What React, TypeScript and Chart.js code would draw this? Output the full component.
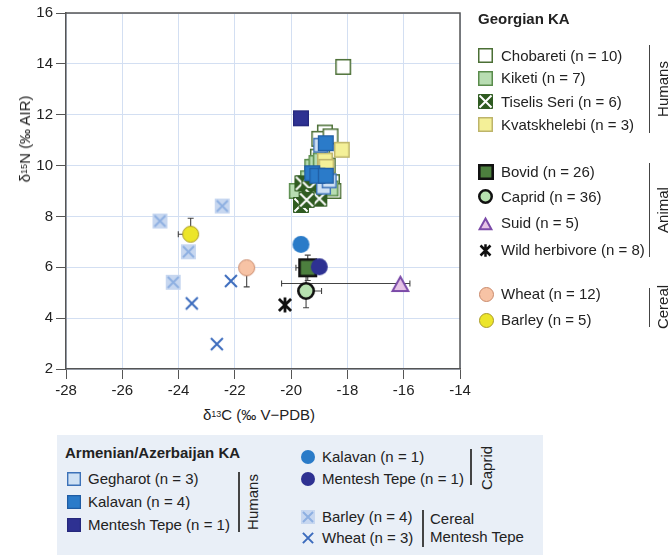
import React, { useEffect, useRef } from "react";
import { Chart, registerables } from "chart.js";

Chart.register(...registerables);

// ---------------- DATA ----------------
// axis ticks
const xTickMin = -28;
const xTickMax = -14;
const yTickMin = 2;
const yTickMax = 16;
const tickStep = 2;

// Georgian KA – humans
const chobaretiX = [-18.15, -18.8, -19.0, -18.6, -18.9, -19.05, -18.7, -18.55, -18.5, -19.15];
const chobaretiY = [13.88, 11.3, 11.05, 11.15, 10.45, 10.35, 10.0, 9.35, 9.0, 9.95];
const kiketiX = [-19.25, -19.1, -18.95, -19.8, -19.55, -18.6, -19.4];
const kiketiY = [9.95, 10.1, 10.2, 9.0, 9.3, 9.1, 9.5];
const tiselisX = [-19.6, -19.35, -19.25, -19.0, -19.65, -19.45];
const tiselisY = [9.3, 9.1, 8.8, 8.7, 8.45, 8.65];
const kvatsX = [-18.2, -18.8, -18.75];
const kvatsY = [10.62, 10.2, 9.95];

// Georgian KA – animals
const bovidX = [-19.41];
const bovidY = [5.98];
const capridX = [-19.47];
const capridY = [5.07];
const suidX = [-16.12];
const suidY = [5.36];
const wildX = [-20.22];
const wildY = [4.52];

// Georgian KA – cereals
const wheatGeoX = [-21.58];
const wheatGeoY = [5.98];
const barleyGeoX = [-23.57];
const barleyGeoY = [7.3];

// Armenian/Azerbaijan KA – humans
const gegharotX = [-18.95, -18.85, -18.65];
const gegharotY = [10.8, 9.15, 9.4];
const kalavanX = [-18.77, -19.25, -19.07, -18.77];
const kalavanY = [10.88, 9.7, 9.6, 9.6];
const mtHumanX = [-19.65];
const mtHumanY = [11.86];

// Armenian/Azerbaijan KA – caprids
const caprKalX = [-19.65];
const caprKalY = [6.9];
const caprMtX = [-19.0];
const caprMtY = [6.02];

// Mentesh Tepe cereals
const barleyMtX = [-24.66, -22.45, -23.65, -24.19];
const barleyMtY = [7.82, 8.41, 6.61, 5.41];
const wheatMtX = [-22.14, -23.53, -22.64];
const wheatMtY = [5.46, 4.58, 2.98];

// error bars (minus / plus, in ‰)
const bovidErrX = [0.42, 0.42];
const bovidErrY = [0.5, 0.5];
const capridErrX = [0, 0.55];
const capridErrY = [0.66, 0.66];
const suidErrX = [4.22, 0.34];
const suidErrY = [0, 0];
const wheatGeoErrX = [0, 0];
const wheatGeoErrY = [0.75, 0];
const barleyGeoErrX = [0.44, 0];
const barleyGeoErrY = [0, 0.63];

// legend labels
const georgianHumanLabels = ["Chobareti (n = 10)", "Kiketi (n = 7)", "Tiselis Seri (n = 6)", "Kvatskhelebi (n = 3)"];
const georgianAnimalLabels = ["Bovid (n = 26)", "Caprid (n = 36)", "Suid (n = 5)", "Wild herbivore (n = 8)"];
const georgianCerealLabels = ["Wheat (n = 12)", "Barley (n = 5)"];
const armHumanLabels = ["Gegharot (n = 3)", "Kalavan (n = 4)", "Mentesh Tepe (n = 1)"];
const armCapridLabels = ["Kalavan (n = 1)", "Mentesh Tepe (n = 1)"];
const mtCerealLabels = ["Barley (n = 4)", "Wheat (n = 3)"];

// ---------------- MARKERS ----------------
type Shape = "square" | "squareX" | "circle" | "triangle" | "asterisk" | "cross";
type Marker = {
  shape: Shape;
  size: number;
  fill?: string;
  stroke?: string;
  lw?: number;
  xColor?: string;
  xWidth?: number;
  inset?: number;
};

const MK: Record<string, Marker> = {
  chob: { shape: "square", size: 16, fill: "#ffffff", stroke: "#4b6f35", lw: 1.5 },
  kik: { shape: "square", size: 16, fill: "#b8ddb2", stroke: "#5a8c4c", lw: 1.5 },
  tis: { shape: "squareX", size: 16, fill: "#2f5b21", stroke: "#2f5b21", lw: 1, xColor: "#ffffff", xWidth: 2, inset: 1.5 },
  kva: { shape: "square", size: 16, fill: "#f4f098", stroke: "#bdb46a", lw: 1.5 },
  bov: { shape: "square", size: 19, fill: "#4c7f3e", stroke: "#111111", lw: 2.6 },
  cap: { shape: "circle", size: 18, fill: "#b7e1b0", stroke: "#111111", lw: 2.6 },
  sui: { shape: "triangle", size: 19, fill: "#e6c3e6", stroke: "#7b4aa8", lw: 2 },
  wild: { shape: "asterisk", size: 18, stroke: "#111111", lw: 2.8 },
  whG: { shape: "circle", size: 17, fill: "#f7c3a5", stroke: "#c98a6c", lw: 1 },
  baG: { shape: "circle", size: 17, fill: "#ece52a", stroke: "#a99a2a", lw: 1 },
  geg: { shape: "square", size: 15, fill: "#cfe1f4", stroke: "#3d72b8", lw: 1.4 },
  kal: { shape: "square", size: 16, fill: "#2b7bc9", stroke: "#1f5ca3", lw: 1.2 },
  mtH: { shape: "square", size: 16, fill: "#2e3192", stroke: "#25287c", lw: 1.2 },
  cKal: { shape: "circle", size: 17, fill: "#2a7bc8" },
  cMt: { shape: "circle", size: 17, fill: "#2e3192" },
  baMt: { shape: "squareX", size: 15, fill: "#c7d7f0", xColor: "#8eb0e2", xWidth: 2, inset: 2 },
  whMt: { shape: "cross", size: 16, stroke: "#3b6bbd", lw: 2 },
};

function paintMarker(ctx: CanvasRenderingContext2D, m: Marker, cx: number, cy: number) {
  const h = m.size / 2;
  const lw = m.lw ?? 0;
  ctx.save();
  ctx.lineJoin = "miter";
  ctx.lineCap = "butt";
  if (m.shape === "square" || m.shape === "squareX") {
    ctx.beginPath();
    ctx.rect(cx - h + lw / 2, cy - h + lw / 2, m.size - lw, m.size - lw);
    if (m.fill) {
      ctx.fillStyle = m.fill;
      ctx.fill();
    }
    if (m.stroke && lw) {
      ctx.strokeStyle = m.stroke;
      ctx.lineWidth = lw;
      ctx.stroke();
    }
    if (m.shape === "squareX") {
      const d = h - (m.inset ?? 1);
      ctx.beginPath();
      ctx.moveTo(cx - d, cy - d);
      ctx.lineTo(cx + d, cy + d);
      ctx.moveTo(cx + d, cy - d);
      ctx.lineTo(cx - d, cy + d);
      ctx.strokeStyle = m.xColor || "#fff";
      ctx.lineWidth = m.xWidth || 2;
      ctx.stroke();
    }
  } else if (m.shape === "circle") {
    ctx.beginPath();
    ctx.arc(cx, cy, h - lw / 2, 0, Math.PI * 2);
    if (m.fill) {
      ctx.fillStyle = m.fill;
      ctx.fill();
    }
    if (m.stroke && lw) {
      ctx.strokeStyle = m.stroke;
      ctx.lineWidth = lw;
      ctx.stroke();
    }
  } else if (m.shape === "triangle") {
    const th = m.size * 0.9;
    ctx.beginPath();
    ctx.moveTo(cx, cy - th / 2 + lw * 0.9);
    ctx.lineTo(cx + h - lw * 0.8, cy + th / 2 - lw / 2);
    ctx.lineTo(cx - h + lw * 0.8, cy + th / 2 - lw / 2);
    ctx.closePath();
    if (m.fill) {
      ctx.fillStyle = m.fill;
      ctx.fill();
    }
    if (m.stroke && lw) {
      ctx.strokeStyle = m.stroke;
      ctx.lineWidth = lw;
      ctx.stroke();
    }
  } else {
    const d = h - lw / 2;
    const k = m.shape === "asterisk" ? 0.8 : 0.85;
    ctx.beginPath();
    ctx.moveTo(cx - d * k, cy - d * k);
    ctx.lineTo(cx + d * k, cy + d * k);
    ctx.moveTo(cx + d * k, cy - d * k);
    ctx.lineTo(cx - d * k, cy + d * k);
    if (m.shape === "asterisk") {
      ctx.moveTo(cx, cy - d);
      ctx.lineTo(cx, cy + d);
    }
    ctx.strokeStyle = m.stroke || "#000";
    ctx.lineWidth = lw || 2;
    ctx.stroke();
  }
  ctx.restore();
}

function markerCanvas(m: Marker): HTMLCanvasElement {
  const s = Math.ceil(m.size) + 4;
  const c = document.createElement("canvas");
  c.width = s;
  c.height = s;
  const ctx = c.getContext("2d");
  if (ctx) paintMarker(ctx, m, s / 2, s / 2);
  return c;
}

// series table (bottom → top drawing order)
const SERIES = [
  { xs: chobaretiX, ys: chobaretiY, m: MK.chob },
  { xs: kiketiX, ys: kiketiY, m: MK.kik },
  { xs: tiselisX, ys: tiselisY, m: MK.tis },
  { xs: kvatsX, ys: kvatsY, m: MK.kva },
  { xs: gegharotX, ys: gegharotY, m: MK.geg },
  { xs: kalavanX, ys: kalavanY, m: MK.kal },
  { xs: mtHumanX, ys: mtHumanY, m: MK.mtH },
  { xs: wheatMtX, ys: wheatMtY, m: MK.whMt },
  { xs: barleyMtX, ys: barleyMtY, m: MK.baMt },
  { xs: wheatGeoX, ys: wheatGeoY, m: MK.whG },
  { xs: barleyGeoX, ys: barleyGeoY, m: MK.baG },
  { xs: wildX, ys: wildY, m: MK.wild },
  { xs: suidX, ys: suidY, m: MK.sui },
  { xs: capridX, ys: capridY, m: MK.cap },
  { xs: bovidX, ys: bovidY, m: MK.bov },
  { xs: caprKalX, ys: caprKalY, m: MK.cKal },
  { xs: caprMtX, ys: caprMtY, m: MK.cMt },
];

const ERRORS = [
  { x: bovidX[0], y: bovidY[0], ex: bovidErrX, ey: bovidErrY },
  { x: capridX[0], y: capridY[0], ex: capridErrX, ey: capridErrY },
  { x: suidX[0], y: suidY[0], ex: suidErrX, ey: suidErrY },
  { x: wheatGeoX[0], y: wheatGeoY[0], ex: wheatGeoErrX, ey: wheatGeoErrY },
  { x: barleyGeoX[0], y: barleyGeoY[0], ex: barleyGeoErrX, ey: barleyGeoErrY },
];

const errorBarPlugin = {
  id: "errorBars",
  beforeDatasetsDraw(chart: any) {
    const { ctx, scales } = chart;
    const xs = scales.x;
    const ys = scales.y;
    const cap = 3;
    ctx.save();
    ctx.strokeStyle = "#444";
    ctx.lineWidth = 1.1;
    ctx.beginPath();
    for (const e of ERRORS) {
      const px = xs.getPixelForValue(e.x);
      const py = ys.getPixelForValue(e.y);
      const hx = [e.ex[0] ? xs.getPixelForValue(e.x - e.ex[0]) : null, e.ex[1] ? xs.getPixelForValue(e.x + e.ex[1]) : null];
      const vy = [e.ey[0] ? ys.getPixelForValue(e.y - e.ey[0]) : null, e.ey[1] ? ys.getPixelForValue(e.y + e.ey[1]) : null];
      for (const p of hx) {
        if (p === null) continue;
        ctx.moveTo(px, py);
        ctx.lineTo(p, py);
        ctx.moveTo(p, py - cap);
        ctx.lineTo(p, py + cap);
      }
      for (const p of vy) {
        if (p === null) continue;
        ctx.moveTo(px, py);
        ctx.lineTo(px, p);
        ctx.moveTo(px - cap, p);
        ctx.lineTo(px + cap, p);
      }
    }
    ctx.stroke();
    ctx.restore();
  },
};

const framePlugin = {
  id: "frame",
  beforeDatasetsDraw(chart: any) {
    const { ctx, chartArea: a } = chart;
    ctx.save();
    ctx.strokeStyle = "#555";
    ctx.lineWidth = 1.5;
    ctx.beginPath();
    ctx.moveTo(a.left, a.top);
    ctx.lineTo(a.right, a.top);
    ctx.lineTo(a.right, a.bottom);
    ctx.stroke();
    ctx.restore();
  },
};

const FONT = "'Liberation Sans', Arial, Helvetica, sans-serif";
const TEXT = "#222";

function Icon({ m, cx, cy }: { m: Marker; cx: number; cy: number }) {
  const ref = useRef<HTMLCanvasElement>(null);
  const s = Math.ceil(m.size) + 4;
  useEffect(() => {
    const c = ref.current;
    if (!c) return;
    const ctx = c.getContext("2d");
    if (!ctx) return;
    ctx.clearRect(0, 0, s, s);
    paintMarker(ctx, m, s / 2, s / 2);
  }, [m, s]);
  return (
    <canvas
      ref={ref}
      width={s}
      height={s}
      style={{ position: "absolute", left: cx - s / 2, top: cy - s / 2 }}
    />
  );
}

function Txt({ left, cy, bold, children }: { left: number; cy: number; bold?: boolean; children: React.ReactNode }) {
  return (
    <div
      style={{
        position: "absolute",
        left,
        top: cy - 9,
        lineHeight: "18px",
        fontSize: 15,
        fontWeight: bold ? "bold" : "normal",
        whiteSpace: "nowrap",
        color: TEXT,
      }}
    >
      {children}
    </div>
  );
}

function VTxt({ cx, cy, children }: { cx: number; cy: number; children: React.ReactNode }) {
  return (
    <div
      style={{
        position: "absolute",
        left: cx,
        top: cy,
        transform: "translate(-50%, -50%) rotate(-90deg)",
        lineHeight: "18px",
        fontSize: 15,
        whiteSpace: "nowrap",
        color: TEXT,
      }}
    >
      {children}
    </div>
  );
}

function VLine({ x, y1, y2 }: { x: number; y1: number; y2: number }) {
  return (
    <div
      style={{ position: "absolute", left: x - 0.75, top: y1, width: 1.5, height: y2 - y1, background: "#444" }}
    />
  );
}

const sup: React.CSSProperties = { fontSize: 9, verticalAlign: "top", position: "relative", top: -1 };

export default function App() {
  const canvasRef = useRef<HTMLCanvasElement>(null);

  useEffect(() => {
    const canvas = canvasRef.current;
    if (!canvas) return;
    Chart.defaults.font.family = FONT;
    const n = SERIES.length;
    const datasets = SERIES.map((s, i) => ({
      data: s.xs.map((x, j) => ({ x, y: s.ys[j] })),
      pointStyle: markerCanvas(s.m) as any,
      pointRadius: 8,
      pointHoverRadius: 8,
      showLine: false,
      order: n - i,
    }));
    const chart = new Chart(canvas, {
      type: "scatter",
      data: { datasets },
      plugins: [errorBarPlugin, framePlugin],
      options: {
        responsive: false,
        animation: false,
        events: [],
        layout: { padding: { left: 0, right: 20, top: 13, bottom: 0 } },
        plugins: { legend: { display: false }, tooltip: { enabled: false } },
        scales: {
          x: {
            type: "linear",
            min: xTickMin,
            max: xTickMax,
            afterFit: (s: any) => {
              s.height = 31;
            },
            ticks: { stepSize: tickStep, font: { size: 15, family: FONT }, color: TEXT, padding: 3, maxRotation: 0 },
            grid: { color: "#d3dff2", tickColor: "#555", tickLength: 10, lineWidth: 1 },
            border: { color: "#555", width: 1.5 },
          },
          y: {
            type: "linear",
            min: yTickMin,
            max: yTickMax,
            afterFit: (s: any) => {
              s.width = 66;
            },
            ticks: { stepSize: tickStep, font: { size: 15, family: FONT }, color: TEXT, padding: 3 },
            grid: { color: "#d3dff2", tickColor: "#555", tickLength: 10, lineWidth: 1 },
            border: { color: "#555", width: 1.5 },
          },
        },
      },
    });
    return () => chart.destroy();
  }, []);

  const rIconX = 485.5;
  const rTextX = 501;
  const gH = [55.5, 78, 101.5, 124.5];
  const gA = [171.7, 196.7, 223, 250];
  const gC = [294.3, 320];
  const hMk = [MK.chob, MK.kik, MK.tis, MK.kva];
  const aMk = [MK.bov, MK.cap, MK.sui, MK.wild];
  const cMk = [MK.whG, MK.baG];
  const lg = (m: Marker, s: number): Marker => ({ ...m, size: s, lw: m.lw ? Math.min(m.lw, s / 6) : m.lw });

  return (
    <div
      style={{
        position: "absolute",
        left: 0,
        top: 0,
        width: 669,
        height: 555,
        overflow: "hidden",
        background: "#fff",
        fontFamily: FONT,
      }}
    >
      <canvas ref={canvasRef} width={480} height={400} style={{ position: "absolute", left: 0, top: 0 }} />

      {/* axis titles */}
      <VTxt cx={25} cy={139}>
        δ<span style={sup}>15</span>N (‰ AIR)
      </VTxt>
      <div
        style={{
          position: "absolute",
          left: 259,
          top: 415,
          transform: "translate(-50%, -50%)",
          fontSize: 15,
          lineHeight: "18px",
          whiteSpace: "nowrap",
          color: TEXT,
        }}
      >
        δ<span style={sup}>13</span>C (‰ V−PDB)
      </div>

      {/* right legend */}
      <Txt left={478} cy={19} bold>
        Georgian KA
      </Txt>
      {georgianHumanLabels.map((t, i) => (
        <React.Fragment key={"gh" + i}>
          <Icon m={lg(hMk[i], 15)} cx={rIconX} cy={gH[i]} />
          <Txt left={rTextX} cy={gH[i]}>{t}</Txt>
        </React.Fragment>
      ))}
      <VLine x={649.5} y1={45} y2={133} />
      <VTxt cx={663} cy={89}>Humans</VTxt>

      {georgianAnimalLabels.map((t, i) => (
        <React.Fragment key={"ga" + i}>
          <Icon m={lg(aMk[i], i === 0 ? 16 : 15)} cx={rIconX} cy={gA[i]} />
          <Txt left={rTextX} cy={gA[i]}>{t}</Txt>
        </React.Fragment>
      ))}
      <VLine x={649.5} y1={163} y2={257} />
      <VTxt cx={663} cy={210}>Animal</VTxt>

      {georgianCerealLabels.map((t, i) => (
        <React.Fragment key={"gc" + i}>
          <Icon m={lg(cMk[i], 15)} cx={rIconX + 1} cy={gC[i]} />
          <Txt left={rTextX} cy={gC[i]}>{t}</Txt>
        </React.Fragment>
      ))}
      <VLine x={649.5} y1={288} y2={327} />
      <VTxt cx={663} cy={307}>Cereal</VTxt>

      {/* bottom legend */}
      <div
        style={{ position: "absolute", left: 57, top: 435, width: 486, height: 120, background: "#e9eff7" }}
      />
      <Txt left={65} cy={453} bold>
        Armenian/Azerbaijan KA
      </Txt>
      {armHumanLabels.map((t, i) => (
        <React.Fragment key={"ah" + i}>
          <Icon m={lg([MK.geg, MK.kal, MK.mtH][i], 14)} cx={73.5} cy={[479, 501.7, 525][i]} />
          <Txt left={88} cy={[479, 501.7, 525][i]}>{t}</Txt>
        </React.Fragment>
      ))}
      <VLine x={239} y1={472} y2={532} />
      <VTxt cx={253} cy={502}>Humans</VTxt>

      {armCapridLabels.map((t, i) => (
        <React.Fragment key={"ac" + i}>
          <Icon m={lg([MK.cKal, MK.cMt][i], 14)} cx={308} cy={[456.7, 479.3][i]} />
          <Txt left={322} cy={[456.7, 479.3][i]}>{t}</Txt>
        </React.Fragment>
      ))}
      <VLine x={471} y1={449} y2={485} />
      <VTxt cx={487} cy={468}>Caprid</VTxt>

      {mtCerealLabels.map((t, i) => (
        <React.Fragment key={"mc" + i}>
          <Icon m={lg([MK.baMt, MK.whMt][i], 14)} cx={308} cy={[516.7, 538.3][i]} />
          <Txt left={322} cy={[516.7, 538.3][i]}>{t}</Txt>
        </React.Fragment>
      ))}
      <VLine x={423} y1={510} y2={547} />
      <Txt left={430} cy={519}>Cereal</Txt>
      <Txt left={430} cy={537}>Mentesh Tepe</Txt>
    </div>
  );
}
